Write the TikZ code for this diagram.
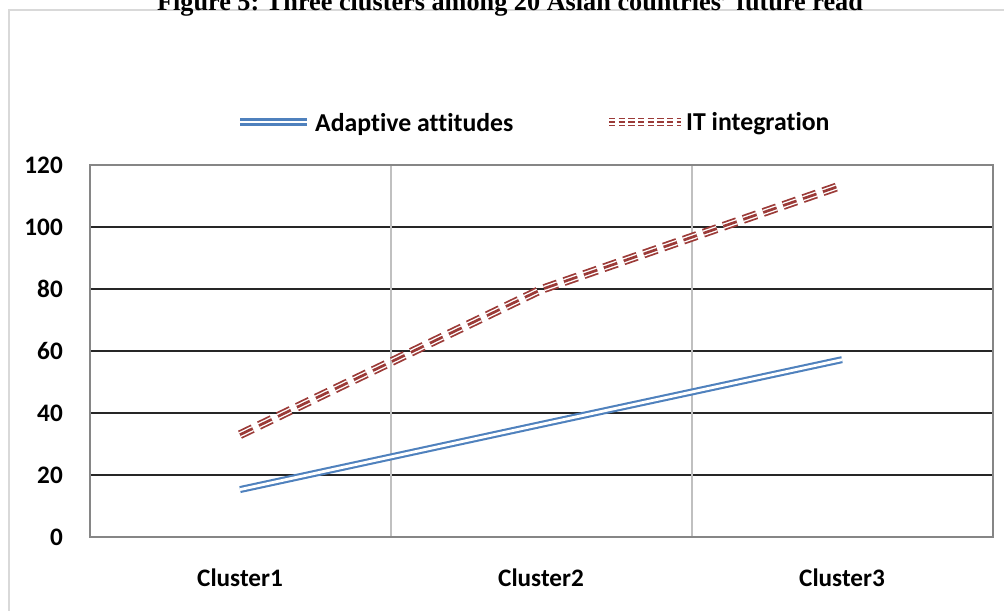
\documentclass[tikz,border=0pt]{standalone}
\usepackage{fontspec}
\setmainfont{Liberation Serif}
\newfontfamily\calibri[Ligatures=NoCommon]{Carlito}
\usetikzlibrary{positioning}
\frenchspacing

\definecolor{adaptblue}{HTML}{4F81BD}
\definecolor{itred}{HTML}{9B3A37}
\definecolor{framegray}{HTML}{D9D9D9}
\definecolor{gridgray}{HTML}{C0C0C0}
\definecolor{bordergray}{HTML}{868686}

\tikzset{
  lab/.style={font=\calibri\bfseries\fontsize{21.5}{24}\selectfont, inner sep=0pt},
  hgrid/.style={draw=black!85, line width=0.9pt},
  vgrid/.style={draw=gridgray, line width=1.5pt},
  adapt/.style={draw=adaptblue, line width=1.8pt, double=white, double distance=2.4pt},
  itdash/.style={dash pattern=on #1 off 0.5*#1},
  itint/.style={
    preaction={draw=itred, line width=7.6pt, itdash=#1},
    preaction={draw=white, line width=4.6pt, itdash=#1},
    draw=itred, line width=2.3pt, itdash=#1, line join=bevel},
  itint/.default=12pt
}

\begin{document}
\begin{tikzpicture}[x=0.03cm, y=0.03cm]

        \useasboundingbox (0,0) rectangle (1004,610);
        \draw[framegray, line width=1.7pt] (9,-20) -- (9,600) -- (1030,600);

        \node[font=\bfseries\fontsize{22.4}{24}\selectfont, anchor=base, inner sep=0pt] (title) at (510,599)
          {Figure 5: Three clusters among 20 Asian countries' future read};

        % plot area, x in pixels, y in data units
        \begin{scope}[shift={(90,73)}, y=0.093cm]
          \foreach \v in {20,40,...,100}
            \draw[hgrid] (0,\v) -- (903,\v);
          \draw[vgrid] (301,0) -- (301,120);
          \draw[vgrid] (602,0) -- (602,120);
          \draw[bordergray, line width=1.2pt] (0,0) rectangle (903,120);

          \begin{scope}[every node/.style={lab, anchor=east}]
            \foreach \v in {0,20,...,120}
              \node (tick\v) at (-27,\v) {\v};
          \end{scope}

          \begin{scope}[every node/.style={lab}]
            \node (c1) at (150,-13.2) {Cluster1};
            \node (c2) at (451,-13.2) {Cluster2};
            \node (c3) at (752,-13.2) {Cluster3};
          \end{scope}

          \coordinate (a1) at (150,15.3);
          \coordinate (a2) at (451,36.3);
          \coordinate (a3) at (752,57.2);
          \coordinate (i1) at (150,33);
          \coordinate (i2) at (451,79.8);
          \coordinate (i3) at (752,113.5);

          \draw[adapt] (a1) -- (a2) -- (a3);
          \draw[itint] (i1) -- (i2) -- (i3);
        \end{scope}

        \begin{scope}[every node/.style={lab, anchor=west, font=\calibri\bfseries\fontsize{22}{24}\selectfont}]
          \node (adaptlab) at (315,486) {Adaptive attitudes};
          \node (itlab)    at (686,486) {IT integration};
        \end{scope}
        \coordinate (adaptkey) at (240,488);
        \coordinate (itkey)    at (609,488);
        \draw[adapt] (adaptkey) -- (adaptkey -| 307,0);
        \draw[itint=5.5pt] (itkey) -- (itkey -| 681,0);

      \end{tikzpicture}
\end{document}
